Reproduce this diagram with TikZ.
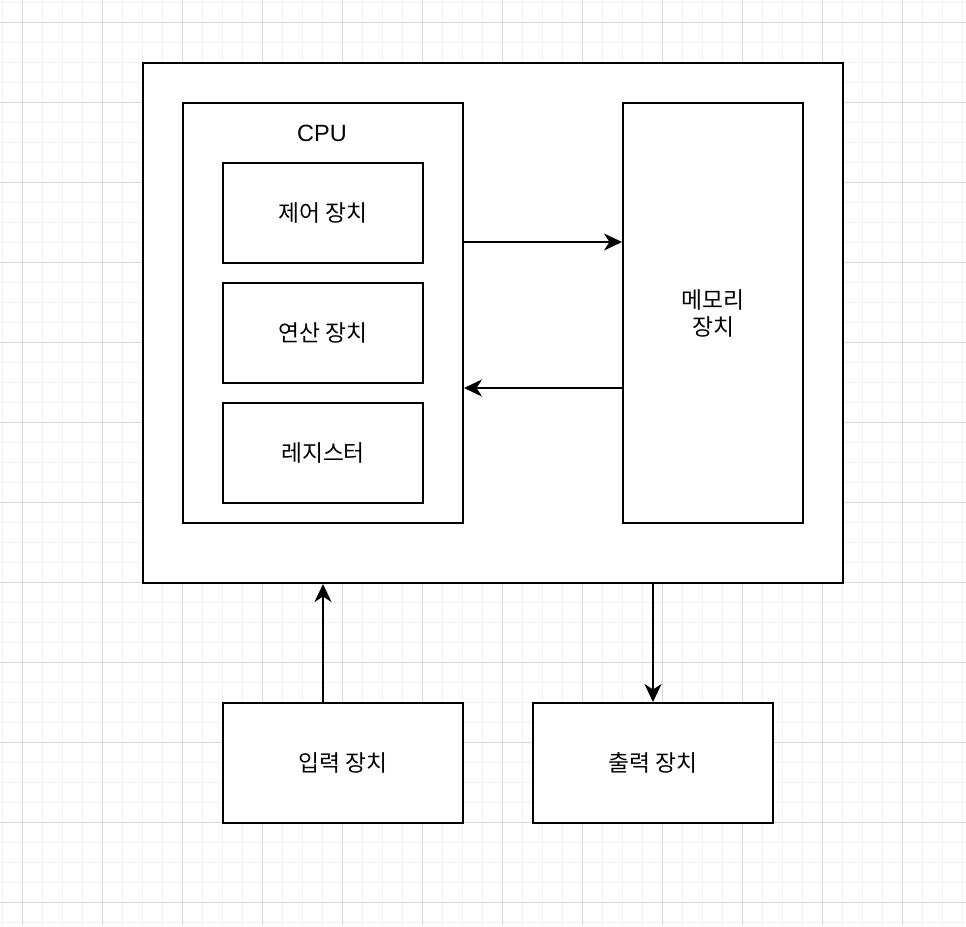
\documentclass[tikz,border=0pt]{standalone}
\usepackage{fontspec}
\setmainfont{Liberation Sans}
\newfontfamily\krfont{Noto Sans CJK KR}
\definecolor{gridmin}{HTML}{F2F2F2}
\definecolor{gridmaj}{HTML}{D8D8D8}
\usepackage{tikz}
\usetikzlibrary{arrows.meta,positioning}

\begin{document}
\begin{tikzpicture}[
  x=1pt,y=-1pt,
  gmin/.style={gridmin,line width=1pt},
  gmaj/.style={gridmaj,line width=1pt},
  blk/.style={draw,line width=2pt,fill=white,inner sep=0pt,align=center,
    font=\krfont\fontsize{22.8}{27}\selectfont},
  fl/.style={-{Stealth[length=18pt,width=17pt,inset=5.5pt]},line width=2pt}]
\useasboundingbox (0,0) rectangle (966,926);
\fill[white] (0,0) rectangle (966,926);
\foreach \g in {2.7,22.7,...,962.7} \draw[gmin] (\g,0) -- (\g,926);
\foreach \g in {2.7,22.7,...,922.7} \draw[gmin] (0,\g) -- (966,\g);
\foreach \g in {22.7,102.7,...,902.7} {\draw[gmaj] (\g,0) -- (\g,926); \draw[gmaj] (0,\g) -- (966,\g);}
\node[blk,minimum width=700pt,minimum height=520pt] (sys) at (493,323) {};
\node[blk,minimum width=280pt,minimum height=420pt] (cpu) at (323,313) {};
\node[font=\fontsize{23.5}{27}\selectfont] (cpulbl) at (322,133) {CPU};
\node[blk,minimum width=200pt,minimum height=100pt] (ctrl) at (323,213) {제어 장치};
\node[blk,minimum width=200pt,minimum height=100pt] (alu) at (323,333) {연산 장치};
\node[blk,minimum width=200pt,minimum height=100pt] (reg) at (323,453) {레지스터};
\node[blk,minimum width=180pt,minimum height=420pt] (mem) at (713,313) {메모리\\장치};
\node[blk,minimum width=240pt,minimum height=120pt] (inp) at (343,763) {입력 장치};
\node[blk,minimum width=240pt,minimum height=120pt] (outp) at (653,763) {출력 장치};
\coordinate (c2m) at ([yshift=-140pt]cpu.north east);
\coordinate (m2c) at ([yshift=-286pt]mem.north west);
\coordinate (inup) at ([xshift=-20pt]inp.north);
\coordinate (sysdn) at (sys.south -| outp.north);
\draw[fl] (c2m) -- (c2m -| mem.west);
\draw[fl] (m2c) -- (m2c -| cpu.east);
\draw[fl] (inup) -- (inup |- sys.south);
\draw[fl] (sysdn) -- (outp.north);
\end{tikzpicture}
\end{document}
